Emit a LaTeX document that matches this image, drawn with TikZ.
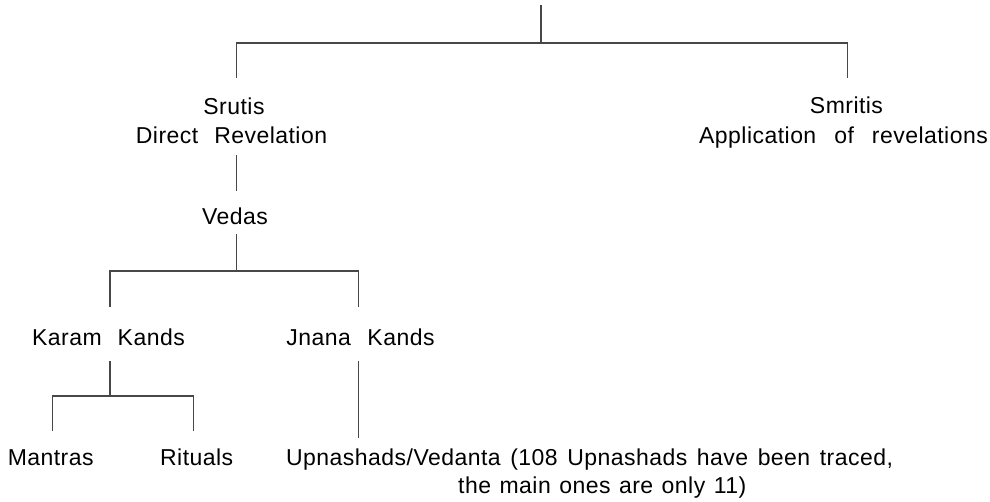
\documentclass[tikz,border=0pt]{standalone}
\usepackage{fontspec}
\setmainfont{Liberation Sans}[LetterSpace=2]
\newcommand\wg[1]{\hspace{#1pt}}
\begin{document}
\begin{tikzpicture}[x=1pt,y=-1pt,
  conn/.style={line width=1.3pt,draw=black!72},
  lbl/.style={anchor=base,inner sep=0pt,font=\fontsize{23}{29}\selectfont}]
\useasboundingbox (0,0) rectangle (990,501);
% text nodes
\node[lbl] (srutis) at (234,114) {Srutis};
\node[lbl] (srutisd) at (231.5,143) {Direct\wg{16}Revelation};
\node[lbl] (smritis) at (846.5,113.5) {Smritis};
\node[lbl] (smritisd) at (843.5,143) {Application\wg{18}of\wg{18}revelations};
\node[lbl] (vedas) at (235,224) {Vedas};
\node[lbl] (karam) at (108.5,345) {Karam\wg{16}Kands};
\node[lbl] (jnana) at (360.5,345) {Jnana\wg{16.5}Kands};
\node[lbl] (mantras) at (50.7,465.5) {Mantras};
\node[lbl] (rituals) at (196.7,465.5) {Rituals};
\node[lbl,anchor=base west] (upn) at (286,465.5) {Upnashads/Vedanta\wg{9.6}(108\wg{9.6}Upnashads\wg{9.6}have\wg{9.6}been\wg{9.6}traced,};
\node[lbl,anchor=base west] (upn2) at (458,493.5) {the\wg{8.5}main\wg{8.5}ones\wg{8.5}are\wg{8.5}only\wg{8.5}11)};
% connector ends
\coordinate (root) at (541,5);
\coordinate (j1) at (541,43);
\coordinate (srutisIn) at (236.5,77.5);
\coordinate (smritisIn) at (847.8,77.5);
\coordinate (srutisOut) at (236.5,155);
\coordinate (vedasIn) at (236.5,191);
\coordinate (vedasOut) at (236.5,234);
\coordinate (j2) at (236.5,271);
\coordinate (karamIn) at (110,306.5);
\coordinate (jnanaIn) at (358.3,306.5);
\coordinate (karamOut) at (110,361);
\coordinate (j3) at (110,396);
\coordinate (mantrasIn) at (52.3,431);
\coordinate (ritualsIn) at (193.3,431);
\coordinate (jnanaOut) at (358.3,361);
\coordinate (upnIn) at (358.3,437.5);
% connectors
\draw[conn] (root) -- (j1);
\draw[conn] (srutisIn) |- (j1) -| (smritisIn);
\draw[conn] (srutisOut) -- (vedasIn);
\draw[conn] (vedasOut) -- (j2);
\draw[conn] (karamIn) |- (j2) -| (jnanaIn);
\draw[conn] (karamOut) -- (j3);
\draw[conn] (mantrasIn) |- (j3) -| (ritualsIn);
\draw[conn] (jnanaOut) -- (upnIn);
\end{tikzpicture}
\end{document}
